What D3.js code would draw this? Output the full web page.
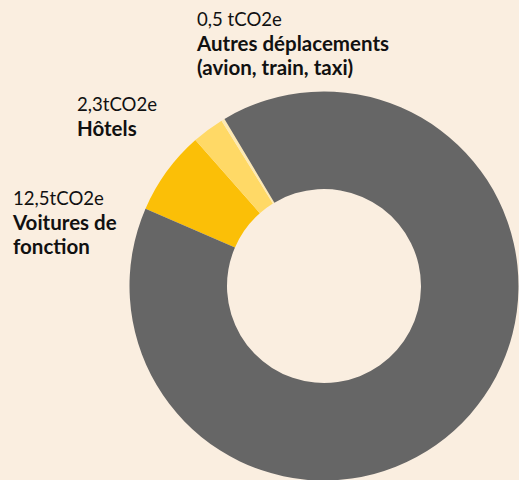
<!DOCTYPE html>
<html>
<head>
<meta charset="utf-8">
<script src="https://cdn.jsdelivr.net/npm/d3@7"></script>
<style>
  html, body { margin: 0; padding: 0; background: #faeee0; }
  svg { display: block; }
  text { font-family: "Source Sans Pro", Lato, "Noto Sans", sans-serif; fill: #111; }
</style>
</head>
<body>
<script>
var width = 519;
var height = 480;

// slices, clockwise from the gray/yellow boundary on the left
var categories = ["Voitures de fonction", "Hôtels", "Autres déplacements (avion, train, taxi)", "Autres"];
var shares = [7.0, 2.67, 0.28, 90.05];   // share of the ring
var colours = ["#fbbf07", "#ffd966", "#fde9b3", "#666666"];

// labels
var valueLabels = ["12,5tCO2e", "2,3tCO2e", "0,5 tCO2e"];
var nameLines = [["Voitures de", "fonction"], ["Hôtels"], ["Autres déplacements", "(avion, train, taxi)"]];
var labelPos = [[13, 205], [77, 111], [197, 26]];

var svg = d3.select("body")
    .append("svg")
    .attr("width", width)
    .attr("height", height);

var cx = 324, cy = 286, outerR = 194.5, innerR = 97;
var start = -66.6 * Math.PI / 180;

var pie = d3.pie()
    .sort(null)
    .value( (d) => d )
    .startAngle(start)
    .endAngle(start + 2 * Math.PI);

var arc = d3.arc()
    .innerRadius(innerR)
    .outerRadius(outerR);

svg.append("g")
    .attr("transform", `translate(${cx},${cy})`)
    .selectAll("path")
    .data(pie(shares))
    .enter()
    .append("path")
    .attr("d", arc)
    .attr("fill", (d, i) => colours[i]);

var labels = svg.selectAll("g.label")
    .data(valueLabels)
    .enter()
    .append("g")
    .attr("class", "label")
    .attr("transform", (d, i) => `translate(${labelPos[i][0]},${labelPos[i][1]})`);

labels.append("text")
    .attr("font-size", 18.6)
    .text( (d) => d );

labels.each( function(d, i) {
    d3.select(this).selectAll("text.name")
        .data(nameLines[i])
        .enter()
        .append("text")
        .attr("class", "name")
        .attr("y", (t, j) => 24.5 * (j + 1))
        .attr("font-size", 20.5)
        .attr("font-weight", "bold")
        .text( (t) => t );
});
</script>
</body>
</html>
